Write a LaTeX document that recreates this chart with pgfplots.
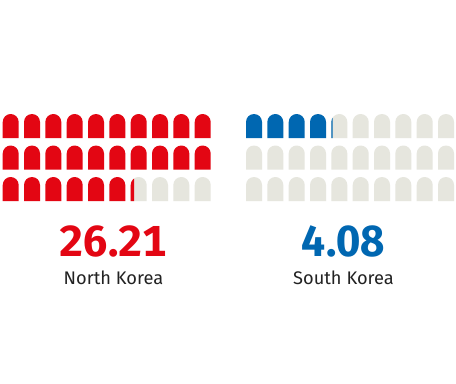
\documentclass[border=0pt]{standalone}
\usepackage{fontspec}
\setmainfont{Fira Sans}
\usepackage{pgfplots}
\pgfplotsset{compat=1.18}
\definecolor{nkred}{HTML}{E30613}
\definecolor{skblue}{HTML}{0067B1}
\definecolor{seatgrey}{HTML}{E6E6DE}
\definecolor{labelink}{HTML}{222222}
\newcommand{\seatpath}{%
  \pgfpathmoveto{\pgfpoint{-8bp}{-12bp}}%
  \pgfpathlineto{\pgfpoint{-8bp}{4bp}}%
  \pgfpatharc{180}{0}{8bp}%
  \pgfpathlineto{\pgfpoint{8bp}{-12bp}}%
  \pgfpathclose}
\pgfdeclareplotmark{seat}{\seatpath\pgfusepathqfill}
\pgfdeclareplotmark{seatA}{% 0.21 of a seat
  \pgfpathrectangle{\pgfpoint{-8bp}{-13bp}}{\pgfpoint{3.36bp}{30bp}}\pgfusepath{clip}%
  \seatpath\pgfusepathqfill}
\pgfdeclareplotmark{seatB}{% 0.08 of a seat
  \pgfpathrectangle{\pgfpoint{-8bp}{-13bp}}{\pgfpoint{1.28bp}{30bp}}\pgfusepath{clip}%
  \seatpath\pgfusepathqfill}
\begin{document}
\begin{tikzpicture}
\begin{axis}[
  width=456bp,height=384bp,scale only axis,
  xmin=0,xmax=456,ymin=0,ymax=384,y dir=reverse,
  hide axis,clip=false]
\path[use as bounding box,fill=white] (axis cs:0,0) rectangle (axis cs:456,384);
% grey seats
\addplot[only marks,mark=seat,mark options={fill=seatgrey,draw=none}] coordinates {
 (138.7,189)(160,189)(181.3,189)(202.7,189)
 (339.3,126)(360.7,126)(382,126)(403.3,126)(424.7,126)(446,126)
 (254,157.5)(275.3,157.5)(296.7,157.5)(318,157.5)(339.3,157.5)(360.7,157.5)(382,157.5)(403.3,157.5)(424.7,157.5)(446,157.5)
 (254,189)(275.3,189)(296.7,189)(318,189)(339.3,189)(360.7,189)(382,189)(403.3,189)(424.7,189)(446,189)
};
% North Korea: 26 full seats
\addplot[only marks,mark=seat,mark options={fill=nkred,draw=none}] coordinates {
 (10.7,126)(32,126)(53.3,126)(74.7,126)(96,126)(117.3,126)(138.7,126)(160,126)(181.3,126)(202.7,126)
 (10.7,157.5)(32,157.5)(53.3,157.5)(74.7,157.5)(96,157.5)(117.3,157.5)(138.7,157.5)(160,157.5)(181.3,157.5)(202.7,157.5)
 (10.7,189)(32,189)(53.3,189)(74.7,189)(96,189)(117.3,189)
};
\addplot[only marks,mark=seatA,mark options={fill=nkred,draw=none}] coordinates {(138.7,189)};
% South Korea: 4 full seats
\addplot[only marks,mark=seat,mark options={fill=skblue,draw=none}] coordinates {
 (254,126)(275.3,126)(296.7,126)(318,126)
};
\addplot[only marks,mark=seatB,mark options={fill=skblue,draw=none}] coordinates {(339.3,126)};
\node[text=nkred,font=\bfseries\fontsize{43.5}{46}\selectfont\addfontfeatures{Numbers=Tabular},anchor=base] at (axis cs:113.3,256.5) {26.21};
\node[text=skblue,font=\bfseries\fontsize{43.5}{46}\selectfont\addfontfeatures{Numbers=Tabular},anchor=base] at (axis cs:343.5,256.5) {4.08};
\node[text=labelink,font=\fontsize{18.3}{21}\selectfont,anchor=base] at (axis cs:113.5,284) {North Korea};
\node[text=labelink,font=\fontsize{18.3}{21}\selectfont,anchor=base] at (axis cs:343.5,284) {South Korea};
\end{axis}
\end{tikzpicture}
\end{document}
